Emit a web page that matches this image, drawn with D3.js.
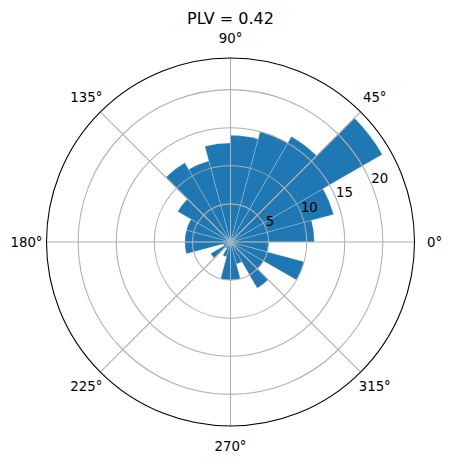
<!DOCTYPE html>
<html>
<head>
<meta charset="utf-8">
<script src="https://cdn.jsdelivr.net/npm/d3@7"></script>
<style>
  html, body { margin: 0; padding: 0; background: #fff; }
  svg { display: block; }
  text { font-family: "DejaVu Sans", sans-serif; fill: #000; }
</style>
</head>
<body>
<svg id="chart" width="453" height="464"></svg>
<script>
// ---- data ----
const titleText = "PLV = 0.42";
const binStartDeg = [0, 15, 30, 45, 60, 75, 90, 105, 120, 135, 150, 165,
                     180, 195, 210, 225, 240, 255, 270, 285, 300, 315, 330, 345];
const binWidthDeg = 15;
const counts = [11, 14, 23, 16, 15, 14, 13, 11, 12, 8, 6, 6,
                6, 1, 3, 1, 2, 5, 5, 3, 7, 5, 10, 5];
const angleTicks = [0, 45, 90, 135, 180, 225, 270, 315];
const angleTickLabels = ["0°", "45°", "90°", "135°", "180°", "225°", "270°", "315°"];
const radialTicks = [5, 10, 15, 20];

// ---- layout ----
const cx = 230.5, cy = 242, R = 184;
const rmax = d3.max(counts) * 1.05;
const r = d3.scaleLinear().domain([0, rmax]).range([0, R]);
const toRad = d => d * Math.PI / 180;

const svg = d3.select("#chart");
const g = svg.append("g").attr("transform", `translate(${cx},${cy})`);

// bars
const arc = d3.arc().innerRadius(0);
g.append("g").selectAll("path")
  .data(binStartDeg.map((a, i) => ({ a0: a, a1: a + binWidthDeg, v: counts[i] })))
  .join("path")
  .attr("d", d => arc({
    outerRadius: r(d.v),
    startAngle: Math.PI / 2 - toRad(d.a1),
    endAngle: Math.PI / 2 - toRad(d.a0)
  }))
  .attr("fill", "#1f77b4")
  .attr("stroke", "rgba(255,255,255,0.35)")
  .attr("stroke-width", 0.6);

// grid: rings
const grid = g.append("g").attr("fill", "none").attr("stroke", "#b0b0b0").attr("stroke-width", 1.07);
grid.selectAll("circle").data(radialTicks).join("circle").attr("r", d => r(d));
// grid: spokes
grid.selectAll("line").data(angleTicks).join("line")
  .attr("x1", 0).attr("y1", 0)
  .attr("x2", d => R * Math.cos(toRad(d)))
  .attr("y2", d => -R * Math.sin(toRad(d)));

// outer frame
g.append("circle").attr("r", R).attr("fill", "none").attr("stroke", "#000").attr("stroke-width", 1.07);

// angular labels
const labR = R + 20;
g.append("g").selectAll("text").data(angleTicks).join("text")
  .attr("x", d => labR * Math.cos(toRad(d)))
  .attr("y", d => -labR * Math.sin(toRad(d)))
  .attr("text-anchor", "middle")
  .attr("dominant-baseline", "central")
  .attr("font-size", 13.3)
  .text((d, i) => angleTickLabels[i]);

// radial labels at 22.5°
const rl = toRad(22.5);
g.append("g").selectAll("text").data(radialTicks).join("text")
  .attr("x", d => r(d) * Math.cos(rl))
  .attr("y", d => -r(d) * Math.sin(rl) - 1)
  .attr("text-anchor", "start")
  .attr("font-size", 13.3)
  .text(d => d);

// title
svg.append("text")
  .attr("x", cx).attr("y", 24)
  .attr("text-anchor", "middle")
  .attr("font-size", 16)
  .text(titleText);
</script>
</body>
</html>
